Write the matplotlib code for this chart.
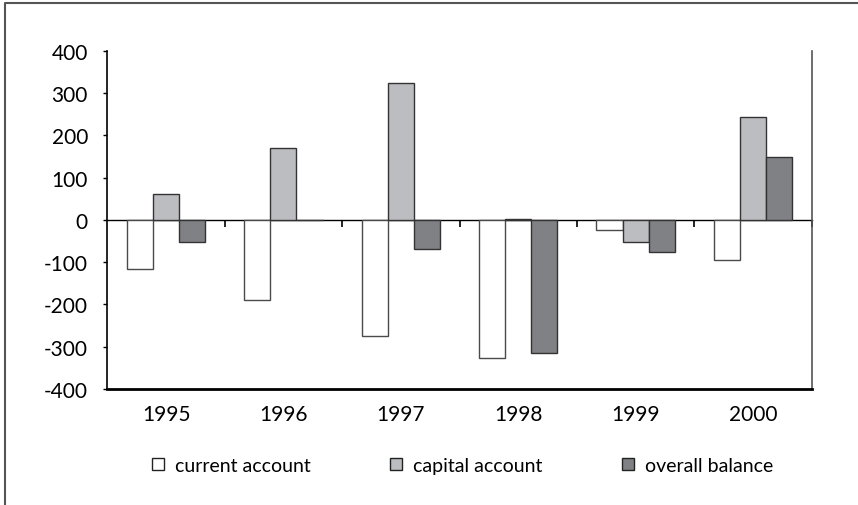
import matplotlib
matplotlib.use("Agg")
import matplotlib.pyplot as plt
import numpy as np
from matplotlib.lines import Line2D

plt.rcParams["font.family"] = ["Lato", "DejaVu Sans"]
plt.rcParams["axes.unicode_minus"] = False

years = ["1995", "1996", "1997", "1998", "1999", "2000"]
current_account = [-116, -189, -274, -327, -25, -95]
capital_account = [60, 170, 323, 3, -52, 243]
overall_balance = [-52, 0, -68, -314, -76, 149]

series = [
    ("current account", current_account, "#ffffff", "#4a4a4a"),
    ("capital account", capital_account, "#bcbdc0", "#333333"),
    ("overall balance", overall_balance, "#808184", "#333333"),
]

fig = plt.figure(figsize=(8.58, 5.06), dpi=100)
ax = fig.add_axes([0.1251, 0.2292, 0.8209, 0.6686])

x = np.arange(len(years))
w = 0.222
for i, (name, vals, fc, ec) in enumerate(series):
    ax.bar(x + (i - 1) * w, vals, w, color=fc, edgecolor=ec, linewidth=1.0, zorder=2)

ax.set_xlim(-0.5, len(years) - 0.5)
ax.set_ylim(-400, 400)
ax.set_yticks(np.arange(-400, 401, 100))
ax.tick_params(axis="y", direction="out", length=3, width=1, pad=11, labelsize=15)
ax.set_xticks(x, years)
ax.tick_params(axis="x", length=0, pad=11, labelsize=15)

ax.spines["top"].set_visible(False)
ax.spines["left"].set_linewidth(1.2)
ax.spines["bottom"].set_linewidth(2)
ax.spines["right"].set_color("#555555")
ax.spines["right"].set_linewidth(1.2)

# zero line with category separators
sec = ax.secondary_xaxis(0, transform=ax.transData)
sec.set_xticks(np.arange(len(years)) + 0.5, [""] * len(years))
sec.tick_params(direction="out", length=5, width=1.2)
for s in sec.spines.values():
    s.set_linewidth(1)

handles = [Line2D([], [], ls="none", marker="s", ms=8, mfc=fc, mec="#222222", mew=1)
           for _, _, fc, _ in series]
fig.legend(handles, [s[0] for s in series], loc="center", bbox_to_anchor=(0.538, 0.078),
           ncol=3, frameon=False, fontsize=14, handlelength=0.8, handletextpad=0.47,
           columnspacing=4.0)

# outer frame (top and left edges visible)
fig.add_artist(Line2D([0.006, 0.006, 1], [0, 0.992, 0.992], transform=fig.transFigure,
                      color="#555555", lw=1.5))

fig.savefig("out.png", dpi=100)
